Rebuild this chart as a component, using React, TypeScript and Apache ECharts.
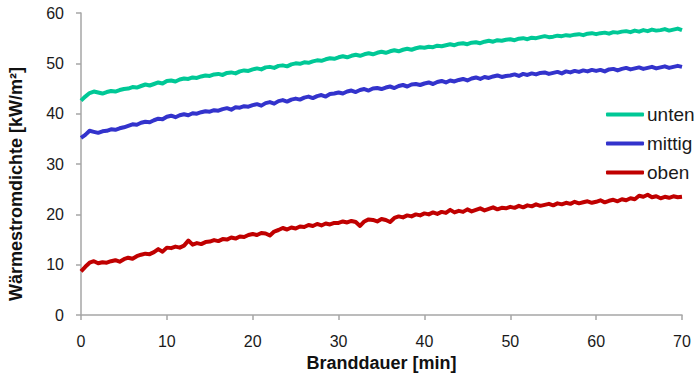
import React, { useEffect, useRef } from "react";
import * as echarts from "echarts";

// Time step between readings (minutes)
const TIME_STEP_MIN = 0.5;

const seriesNames = ["unten", "mittig", "oben"];

// Heat flux density [kW/m²], every 0.5 min, 0..70 min
const untenValues = [
  42.6, 43.4, 44.1, 44.4, 44.2, 44.0, 44.3, 44.5, 44.4, 44.7,
  44.9, 45.0, 45.3, 45.2, 45.5, 45.8, 45.6, 45.9, 46.2, 46.0,
  46.5, 46.6, 46.4, 46.8, 47.0, 46.9, 47.2, 47.1, 47.4, 47.6,
  47.5, 47.8, 47.9, 47.7, 48.1, 48.2, 48.0, 48.4, 48.6, 48.5,
  48.8, 49.0, 48.8, 49.2, 49.3, 49.1, 49.5, 49.6, 49.4, 49.8,
  50.0, 49.9, 50.2, 50.1, 50.4, 50.6, 50.5, 50.8, 51.0, 50.9,
  51.2, 51.4, 51.2, 51.5, 51.7, 51.5, 51.8, 52.0, 51.8, 52.1,
  52.3, 52.1, 52.4, 52.6, 52.4, 52.7, 52.9, 52.7, 53.0, 53.2,
  53.1, 53.3, 53.2, 53.5, 53.4, 53.6, 53.8, 53.6, 53.9, 54.0,
  53.8, 54.1, 54.2, 54.0, 54.3, 54.5, 54.3, 54.6, 54.5, 54.7,
  54.8, 54.6, 54.9, 55.0, 54.8, 55.1, 55.0, 55.2, 55.4, 55.2,
  55.3, 55.5, 55.4, 55.6, 55.5, 55.7, 55.8, 55.6, 55.9, 56.0,
  55.8, 56.0, 56.1, 55.9, 56.2, 56.1, 56.3, 56.4, 56.2, 56.5,
  56.3, 56.6, 56.4, 56.7, 56.5, 56.6, 56.8, 56.5, 56.7, 56.9,
  56.6,
];

const mittigValues = [
  35.2, 35.8, 36.6, 36.4, 36.2, 36.5, 36.6, 36.9, 36.8, 37.1,
  37.3, 37.6, 37.9, 37.8, 38.2, 38.4, 38.3, 38.7, 39.0, 38.9,
  39.4, 39.6, 39.3, 39.7, 39.9, 39.7, 40.1, 40.0, 40.3, 40.5,
  40.4, 40.7, 40.6, 40.9, 41.1, 40.8, 41.3, 41.2, 41.5, 41.4,
  41.7, 41.9, 41.6, 42.1, 42.3, 42.0, 42.5, 42.7, 42.4, 42.8,
  43.0, 42.8, 43.2, 43.4, 43.1, 43.5, 43.7, 43.4, 43.9, 44.0,
  44.2, 44.0, 44.4, 44.6, 44.3, 44.7, 44.9, 44.6, 45.0, 45.1,
  44.9, 45.2, 45.4, 45.1, 45.5, 45.7, 45.4, 45.8, 45.9, 45.7,
  46.0, 46.2, 45.9, 46.3, 46.5, 46.2, 46.6, 46.4, 46.7, 46.9,
  46.6, 47.0, 47.2, 46.9, 47.3, 47.1, 47.4, 47.6, 47.3, 47.5,
  47.6, 47.8, 47.5, 47.9, 47.7, 48.0, 47.8, 48.1, 48.2, 47.9,
  48.1, 48.3, 48.0, 48.4, 48.2, 48.5, 48.3, 48.6, 48.4, 48.7,
  48.5, 48.7, 48.4, 48.8, 48.9, 48.6, 48.9, 49.1, 48.8, 49.0,
  49.2, 48.9, 49.1, 49.3, 49.0, 49.2, 49.4, 49.1, 49.3, 49.5,
  49.3,
];

const obenValues = [
  8.7, 9.6, 10.4, 10.7, 10.3, 10.5, 10.4, 10.7, 10.9, 10.6,
  11.1, 11.4, 11.2, 11.7, 12.0, 12.2, 12.1, 12.5, 13.1, 12.6,
  13.4, 13.3, 13.6, 13.4, 13.8, 14.8, 14.0, 14.3, 14.1, 14.5,
  14.6, 14.9, 14.7, 15.1, 15.0, 15.4, 15.2, 15.6, 15.5, 15.9,
  16.1, 15.9, 16.3, 16.2, 15.8, 16.6, 16.9, 17.3, 17.0, 17.4,
  17.2, 17.6, 17.5, 17.9, 17.7, 18.1, 17.8, 18.2, 18.0, 18.3,
  18.3, 18.6, 18.4, 18.7, 18.5, 17.7, 18.6, 19.0, 18.9, 18.6,
  19.1, 18.9, 18.5, 19.3, 19.6, 19.4, 19.8, 19.6, 20.0, 19.8,
  20.2, 20.0, 20.4, 20.1, 20.5, 20.3, 20.9, 20.4, 20.7, 20.5,
  21.0, 20.6, 20.9, 21.2, 20.8, 21.1, 21.4, 21.0, 21.3, 21.2,
  21.5, 21.3, 21.7, 21.4, 21.8, 21.6, 22.0, 21.7, 21.9, 22.1,
  21.8, 22.2, 22.0, 22.3, 22.1, 22.5, 22.2, 22.4, 22.6, 22.3,
  22.5, 22.8, 22.4, 22.7, 22.9, 22.6, 23.0, 22.8, 23.2, 23.0,
  23.7, 23.5, 23.9, 23.4, 23.6, 23.2, 23.5, 23.3, 23.6, 23.4,
  23.5,
];

const seriesColors = ["#00C896", "#3333CC", "#C00000"];

const xAxisTitle = "Branddauer [min]";
const yAxisTitle = "Wärmestromdichte [kW/m²]";

const toPairs = (vals: number[]) => vals.map((v, i) => [i * TIME_STEP_MIN, v]);

export default function App() {
  const ref = useRef<HTMLDivElement>(null);

  useEffect(() => {
    if (!ref.current) return;
    const chart = echarts.init(ref.current, null, { renderer: "svg" });
    const font = "Arial, 'Liberation Sans', sans-serif";
    const allValues = [untenValues, mittigValues, obenValues];
    chart.setOption({
      animation: false,
      backgroundColor: "#ffffff",
      textStyle: { fontFamily: font },
      grid: { left: 81, right: 13, top: 13, bottom: 60, containLabel: false },
      legend: {
        data: seriesNames,
        orient: "vertical",
        left: 601,
        top: 100,
        icon: "roundRect",
        itemWidth: 38,
        itemHeight: 4,
        itemGap: 10,
        textStyle: { fontSize: 19, lineHeight: 19, color: "#1a1a1a", fontFamily: font, padding: [0, 0, 0, -2] },
      },
      xAxis: {
        type: "value",
        min: 0,
        max: 70,
        interval: 10,
        name: xAxisTitle,
        nameLocation: "middle",
        nameGap: 37,
        nameTextStyle: { fontSize: 18, fontWeight: "bold", color: "#111", fontFamily: font },
        axisLine: { show: true, lineStyle: { color: "#A6A6A6", width: 1.5 } },
        axisTick: { show: true, length: 5, lineStyle: { color: "#A6A6A6", width: 1.5 } },
        axisLabel: { fontSize: 16, color: "#1a1a1a", margin: 18, fontFamily: font },
        splitLine: { show: false },
      },
      yAxis: {
        type: "value",
        min: 0,
        max: 60,
        interval: 10,
        axisLine: { show: true, lineStyle: { color: "#A6A6A6", width: 1.5 } },
        axisTick: { show: true, length: 5, lineStyle: { color: "#A6A6A6", width: 1.5 } },
        axisLabel: { fontSize: 16, color: "#1a1a1a", margin: 17, fontFamily: font },
        splitLine: { show: false },
      },
      graphic: [
        {
          type: "text",
          x: 16,
          y: 184,
          rotation: Math.PI / 2,
          style: {
            text: yAxisTitle,
            font: `bold 18px ${font}`,
            fill: "#111",
            align: "center",
            verticalAlign: "middle",
          },
        },
      ],
      series: seriesNames.map((name, k) => ({
        name,
        type: "line",
        data: toPairs(allValues[k]),
        showSymbol: false,
        symbol: "none",
        lineStyle: { width: 4, color: seriesColors[k], join: "round" },
        itemStyle: { color: seriesColors[k] },
        emphasis: { disabled: true },
      })),
    });
    return () => chart.dispose();
  }, []);

  return (
    <div
      ref={ref}
      style={{ position: "fixed", left: 0, top: 0, width: 695, height: 377, background: "#fff" }}
    />
  );
}
